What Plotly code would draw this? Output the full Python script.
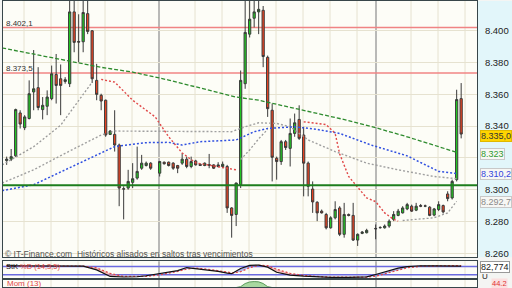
import numpy as np
import plotly.graph_objects as go

# ---------------- data (IBEX points) ----------------
idx = list(range(0, 33)) + list(range(34, 81)) + list(range(82, 102))

open_ = [8318.3, 8319.2, 8321.3, 8348.3, 8339.0, 8344.8, 8361.5, 8364.2, 8350.4, 8352.5,
         8357.3, 8372.5, 8369.8, 8368.1, 8366.7, 8411.9, 8393.3, 8393.1, 8410.8, 8400.0,
         8368.8, 8359.4, 8356.3, 8334.8, 8334.8, 8328.1, 8300.6, 8301.0, 8304.6, 8307.3,
         8313.5, 8315.2, 8316.7,
         8310.4, 8317.3, 8317.3, 8316.7, 8315.2, 8316.7, 8319.2, 8314.6, 8318.1, 8316.0,
         8315.2, 8315.8, 8315.6, 8314.6, 8314.6, 8314.6, 8288.5, 8284.4, 8303.1, 8366.7,
         8397.9, 8407.9, 8411.9, 8412.9, 8383.3, 8350.0, 8319.8, 8317.7, 8330.2, 8326.0,
         8335.4, 8344.2, 8334.4, 8316.7, 8300.4, 8292.1, 8286.5, 8284.4, 8276.0, 8282.3,
         8288.5, 8271.9, 8284.4, 8283.8, 8268.3, 8272.5, 8272.9,
         8275.6, 8276.0, 8276.0, 8277.1, 8281.3, 8283.8, 8285.4, 8287.9, 8289.6, 8287.1,
         8290.0, 8289.6, 8289.0, 8284.0, 8287.5, 8290.0, 8297.3, 8294.8, 8306.3, 8357.3]
high = [8320.8, 8325.6, 8351.0, 8350.0, 8346.9, 8368.8, 8387.9, 8377.1, 8358.3, 8362.5,
        8378.1, 8385.4, 8378.8, 8370.8, 8425.0, 8425.0, 8410.4, 8423.0, 8422.0, 8400.5,
        8379.2, 8360.4, 8356.7, 8337.5, 8350.0, 8329.0, 8302.1, 8312.5, 8316.7, 8327.1,
        8321.9, 8317.7, 8317.3,
        8318.1, 8317.7, 8317.7, 8317.3, 8315.6, 8322.9, 8320.8, 8320.8, 8318.8, 8316.5,
        8317.1, 8322.5, 8316.0, 8317.3, 8317.7, 8315.6, 8289.0, 8304.4, 8375.0, 8420.0,
        8418.8, 8420.0, 8418.8, 8415.6, 8384.4, 8354.2, 8320.8, 8331.3, 8331.3, 8344.8,
        8347.9, 8353.1, 8339.6, 8317.7, 8305.2, 8292.7, 8287.5, 8285.4, 8283.3, 8292.7,
        8289.6, 8291.7, 8285.0, 8291.7, 8272.5, 8274.0, 8275.4,
        8278.1, 8277.0, 8278.1, 8281.3, 8286.5, 8287.9, 8289.6, 8291.7, 8290.6, 8291.7,
        8291.0, 8290.6, 8289.6, 8288.5, 8292.7, 8290.6, 8299.0, 8306.3, 8362.9, 8367.1]
low = [8315.6, 8318.0, 8320.6, 8338.5, 8337.5, 8344.2, 8350.0, 8350.0, 8344.2, 8346.9,
       8356.3, 8354.2, 8346.9, 8366.7, 8364.6, 8386.5, 8380.2, 8386.5, 8397.9, 8367.1,
       8356.3, 8350.0, 8333.3, 8334.4, 8324.0, 8289.6, 8281.3, 8300.0, 8301.0, 8306.3,
       8312.5, 8314.6, 8312.5,
       8308.3, 8315.8, 8314.6, 8312.5, 8310.4, 8315.6, 8313.5, 8313.5, 8315.2, 8315.0,
       8314.8, 8313.5, 8313.0, 8314.0, 8313.5, 8285.4, 8269.8, 8277.1, 8301.0, 8363.5,
       8395.8, 8402.1, 8397.9, 8377.1, 8345.8, 8305.2, 8306.3, 8315.6, 8325.0, 8314.6,
       8333.3, 8331.3, 8295.8, 8295.8, 8285.4, 8280.2, 8285.0, 8275.0, 8275.5, 8281.3,
       8270.8, 8269.8, 8283.2, 8267.7, 8264.6, 8272.0, 8272.5,
       8268.8, 8275.5, 8275.5, 8276.0, 8280.2, 8283.3, 8285.0, 8287.1, 8286.0, 8286.5,
       8289.0, 8289.0, 8283.3, 8283.3, 8286.5, 8285.0, 8292.7, 8293.8, 8305.2, 8332.3]
close = [8319.2, 8320.8, 8350.4, 8341.3, 8345.8, 8360.4, 8363.5, 8351.7, 8353.1, 8358.3,
         8372.9, 8365.6, 8365.6, 8369.2, 8411.9, 8392.7, 8392.9, 8411.5, 8399.6, 8369.8,
         8360.0, 8355.8, 8334.4, 8336.9, 8328.1, 8301.0, 8300.4, 8305.2, 8306.9, 8311.5,
         8316.7, 8316.7, 8313.5,
         8317.7, 8316.3, 8315.2, 8313.5, 8313.5, 8319.2, 8314.6, 8317.7, 8315.6, 8315.2,
         8316.7, 8315.4, 8313.5, 8315.6, 8316.0, 8288.5, 8283.8, 8304.2, 8368.8, 8399.0,
         8407.3, 8411.9, 8413.5, 8383.8, 8351.0, 8320.4, 8317.7, 8330.2, 8326.5, 8335.4,
         8342.1, 8332.3, 8316.7, 8302.1, 8292.3, 8285.4, 8285.4, 8276.0, 8282.3, 8287.5,
         8271.9, 8284.4, 8283.8, 8268.3, 8271.9, 8273.3, 8274.4,
         8275.4, 8276.2, 8277.1, 8280.2, 8284.4, 8286.5, 8288.5, 8290.6, 8286.5, 8289.6,
         8289.6, 8289.8, 8283.8, 8287.9, 8290.6, 8286.0, 8294.4, 8305.2, 8356.7, 8335.0]

# moving averages
ma_green_idx = [-1, 6, 13, 21, 28, 36, 51, 56, 74, 81, 89, 100]
ma_green = [8389.2, 8385.4, 8381.5, 8377.0, 8374.0, 8369.0, 8358.3, 8356.3, 8344.8, 8339.8, 8333.3, 8323.5]
ma_blue_idx = [-1, 6, 13, 21, 24, 31, 36, 39, 43, 51, 55, 58, 64, 69, 74, 81, 89, 96, 100]
ma_blue = [8299.4, 8303.1, 8312.5, 8322.9, 8327.1, 8329.6, 8329.8, 8328.1, 8330.2, 8331.3,
           8336.5, 8338.5, 8339.6, 8337.9, 8335.4, 8328.1, 8321.3, 8311.5, 8310.2]
ma_gray_idx = [-1, 6, 13, 21, 24, 36, 50, 53, 56, 60, 63, 67, 73, 80, 87, 95, 100]
ma_gray = [8304.2, 8312.5, 8322.9, 8334.4, 8336.9, 8336.9, 8336.5, 8339.6, 8342.1, 8341.7,
           8339.6, 8331.3, 8324.0, 8316.7, 8312.5, 8308.3, 8306.9]

# parabolic SAR segments
sar_up1_idx = [-1, 6, 12, 16, 19]
sar_up1 = [8315.6, 8327.1, 8340.6, 8356.3, 8367.7]
sar_dn1_idx = [21, 24, 28, 33, 36, 39, 42, 47, 51]
sar_dn1 = [8369.4, 8367.7, 8356.3, 8345.8, 8333.3, 8323.1, 8316.9, 8314.6, 8312.5]
sar_up2_idx = [52, 54, 56, 58]
sar_up2 = [8319.0, 8325.0, 8332.0, 8338.0]
sar_dn2_idx = [66, 71, 73, 74, 76, 80, 82, 84, 86, 87]
sar_dn2 = [8342.7, 8341.0, 8335.4, 8322.5, 8308.3, 8294.8, 8292.5, 8285.4, 8281.3, 8280.2]
sar_up3_idx = [88, 91, 95, 98, 100]
sar_up3 = [8280.6, 8281.3, 8282.3, 8285.4, 8292.7]

levels_red = [8402.1, 8373.5]
level_green = 8302.8

# price axis ticks (8.320 is hidden behind the 8.323 marker in the original)
price_ticks = [8260, 8280, 8300, 8320, 8340, 8360, 8380, 8400]
price_ticktext = ['8.260', '8.280', '8.300', '', '8.340', '8.360', '8.380', '8.400']

# stochastic
st_idx = [0, 6, 12, 17, 20, 23, 26, 29, 31, 34, 36, 38, 40, 42, 44, 47, 49, 50, 52, 54,
          56, 58, 60, 63, 66, 69, 72, 76, 80, 82, 85, 87, 89, 92, 95, 97, 99, 101]
st_k = [85, 84, 82, 82, 55, 8, 4, 6, 13, 28, 40, 50, 72, 65, 58, 45, 32, 28, 65, 88,
        90, 75, 38, 18, 10, 4, 2, 1, 5, 22, 52, 68, 78, 85, 84, 85, 86, 82.774]
st_d = [83, 82, 80, 82, 70, 30, 8, 5, 8, 20, 32, 44, 62, 68, 62, 52, 40, 32, 42, 72,
        88, 85, 60, 30, 15, 8, 3, 2, 3, 10, 35, 55, 70, 82, 85, 84, 85, 85]
st_levels = [80, 20]

# momentum (only its top is visible)
mom_idx = [50, 52, 53, 54, 55, 56, 57, 58, 60]
mom = [-20, 5, 50, 72, 78, 74, 50, 5, -20]

# ---------------- geometry helpers ----------------
W, H = 512, 288
ML, MR = 3, 35
X0, X1 = -0.815, 104.52
PW = W - ML - MR


def pxx(p):
    return (p - ML) / PW


def pxy(p):
    return 1 - p / H


def px2i(p):
    return X0 + (p - ML) / PW * (X1 - X0)


fig = go.Figure()


def line(x, y, color, dash, width=1.4, xa='x', ya='y'):
    fig.add_trace(go.Scatter(x=x, y=y, mode='lines', xaxis=xa, yaxis=ya,
                             line=dict(color=color, dash=dash, width=width),
                             hoverinfo='skip', showlegend=False))


line(ma_green_idx, ma_green, '#2e8b2e', '4px,2px', 1.3)
line(ma_gray_idx, ma_gray, '#a0a0a0', '2px,2px', 1.4)
line(ma_blue_idx, ma_blue, '#3050e0', '2px,2px', 1.5)
for xi, yi in [(sar_up1_idx, sar_up1), (sar_up2_idx, sar_up2), (sar_up3_idx, sar_up3)]:
    line(xi, yi, '#9a9a9a', '2px,2px', 1.3)
for xi, yi in [(sar_dn1_idx, sar_dn1), (sar_dn2_idx, sar_dn2)]:
    line(xi, yi, '#e04848', '2px,2px', 1.4)

fig.add_trace(go.Candlestick(
    x=idx, open=open_, high=high, low=low, close=close,
    increasing=dict(line=dict(color='#3a3a3a', width=1), fillcolor='#22cc22'),
    decreasing=dict(line=dict(color='#3a3a3a', width=1), fillcolor='#ee4422'),
    whiskerwidth=0, hoverinfo='skip', showlegend=False))

# stochastic panel
k = np.array(st_k, dtype=float)
d = np.array(st_d, dtype=float)
fig.add_trace(go.Scatter(x=st_idx, y=d, mode='lines', line=dict(width=0), xaxis='x2', yaxis='y2',
                         hoverinfo='skip', showlegend=False))
fig.add_trace(go.Scatter(x=st_idx, y=np.maximum(k, d), mode='lines', line=dict(width=0),
                         fill='tonexty', fillcolor='rgba(110,130,230,0.55)', xaxis='x2', yaxis='y2',
                         hoverinfo='skip', showlegend=False))
fig.add_trace(go.Scatter(x=st_idx, y=d, mode='lines', line=dict(width=0), xaxis='x2', yaxis='y2',
                         hoverinfo='skip', showlegend=False))
fig.add_trace(go.Scatter(x=st_idx, y=np.minimum(k, d), mode='lines', line=dict(width=0),
                         fill='tonexty', fillcolor='rgba(240,150,150,0.6)', xaxis='x2', yaxis='y2',
                         hoverinfo='skip', showlegend=False))
line(st_idx, st_d, '#e04848', '2px,2px', 1.3, 'x2', 'y2')
line(st_idx, st_k, '#111111', 'solid', 1.2, 'x2', 'y2')

# momentum panel
fig.add_trace(go.Scatter(x=mom_idx, y=mom, mode='lines', xaxis='x3', yaxis='y3', fill='tozeroy',
                         fillcolor='#a8d8a0', line=dict(color='#5a9a5a', width=1),
                         hoverinfo='skip', showlegend=False))

frame = '#38464a'
ax_common = dict(showgrid=False, zeroline=False, showline=True, mirror=True,
                 linecolor=frame, linewidth=1, ticks='', showticklabels=False)

fig.update_layout(
    width=W, height=H, margin=dict(l=ML, r=MR, t=0, b=0),
    paper_bgcolor='#f4f5f3', plot_bgcolor='#fdfdf7', separators=',.',
    font=dict(family='Liberation Sans, Arial, sans-serif', size=9, color='#222'),
    showlegend=False,
    xaxis=dict(domain=[0, 1], range=[X0, X1], rangeslider=dict(visible=False), anchor='y', **ax_common),
    yaxis=dict(domain=[pxy(258), 1], range=[8257.5, 8418.75], side='right', anchor='x',
               tickvals=price_ticks, ticktext=price_ticktext, showgrid=True, gridcolor='#e6e2d0',
               gridwidth=1, zeroline=False, showline=True, mirror=True, linecolor=frame,
               ticks='', ticklabelstandoff=5, tickfont=dict(size=9.5, color='#222')),
    xaxis2=dict(domain=[0, 1], range=[X0, X1], anchor='y2', **ax_common),
    yaxis2=dict(domain=[pxy(279), pxy(262)], range=[-3.6, 117.8], anchor='x2', **ax_common),
    xaxis3=dict(domain=[0, 1], range=[X0, X1], anchor='y3', **ax_common),
    yaxis3=dict(domain=[0, pxy(281)], range=[0, 100], anchor='x3', **ax_common),
)

shapes = []
# right-hand axis background
shapes.append(dict(type='rect', xref='paper', yref='paper', x0=pxx(477), x1=pxx(513),
                   y0=pxy(258), y1=1, fillcolor='#e2f6fa', line=dict(width=0), layer='below'))
# vertical grid lines
grid_px = [24, 51, 78, 105, 132, 195, 222, 249, 276, 303, 330, 357, 411, 438, 465]
sep_px = [159, 376]
for xa, ya in [('x', 'y domain'), ('x2', 'y2 domain'), ('x3', 'y3 domain')]:
    for p in grid_px:
        shapes.append(dict(type='line', xref=xa, yref=ya, x0=px2i(p), x1=px2i(p), y0=0, y1=1,
                           line=dict(color='#e6e2d0', width=1), layer='below'))
    for p in sep_px:
        shapes.append(dict(type='line', xref=xa, yref=ya, x0=px2i(p), x1=px2i(p), y0=0, y1=1,
                           line=dict(color='#8c8c8c', width=1.2), layer='below'))
# horizontal levels
for lv in levels_red:
    shapes.append(dict(type='line', xref='x domain', yref='y', x0=0, x1=1, y0=lv, y1=lv,
                       line=dict(color='#f08484', width=1.5), layer='below'))
shapes.append(dict(type='line', xref='x domain', yref='y', x0=0, x1=1, y0=level_green, y1=level_green,
                   line=dict(color='#1e7e1e', width=2), layer='above'))
for lv in st_levels:
    shapes.append(dict(type='line', xref='x2 domain', yref='y2', x0=0, x1=1, y0=lv, y1=lv,
                       line=dict(color='#6a6ae0', width=1.5), layer='below'))
fig.update_layout(shapes=shapes)

ann = []


def lab(text, x, y, color='#222', size=9, bg=None, border=None, anchor='left', pad=1):
    a = dict(text=text, xref='paper', yref='paper', x=pxx(x), y=pxy(y), xanchor=anchor,
             yanchor='middle', showarrow=False, font=dict(size=size, color=color), borderpad=pad)
    if bg:
        a['bgcolor'] = bg
    if border:
        a['bordercolor'] = border
        a['borderwidth'] = 1
    ann.append(a)


lab('8.402,1', 4, 23, '#333', 8)
lab('8.373,5', 4, 68, '#333', 8)
lab('© IT-Finance.com  Históricos alisados en saltos tras vencimientos', 3, 254.5, '#555', 8.5)
lab('8.335,0', 480, 136, '#333', 9, '#ffd400', '#e0b800', pad=0)
lab('8.323', 480, 154, '#2e9a2e', 9, '#f7f7f4', '#c8c8c8', pad=0)
lab('8.310,2', 480, 174, '#3344dd', 9, '#f7f7f4', '#c8c8c8', pad=0)
lab('8.292,7', 480, 202, '#8a8a8a', 9, '#f7f7f4', '#c8c8c8', pad=0)
lab('82,774', 480, 268, '#222', 9, '#ffffff', '#999999', pad=0)
lab('U', 480, 277, '#222', 8)
lab('44.2', 491, 284, '#e03030', 7.5, '#fbe0e0', pad=0)
lab('StK', 4, 267, '#111', 7.5)
lab('%D (14,3,5)', 18, 267, '#e04848', 7.5)
lab('Mom (13)', 5, 284.5, '#e04848', 8)
fig.update_layout(annotations=ann)

fig.write_html('out.html')
